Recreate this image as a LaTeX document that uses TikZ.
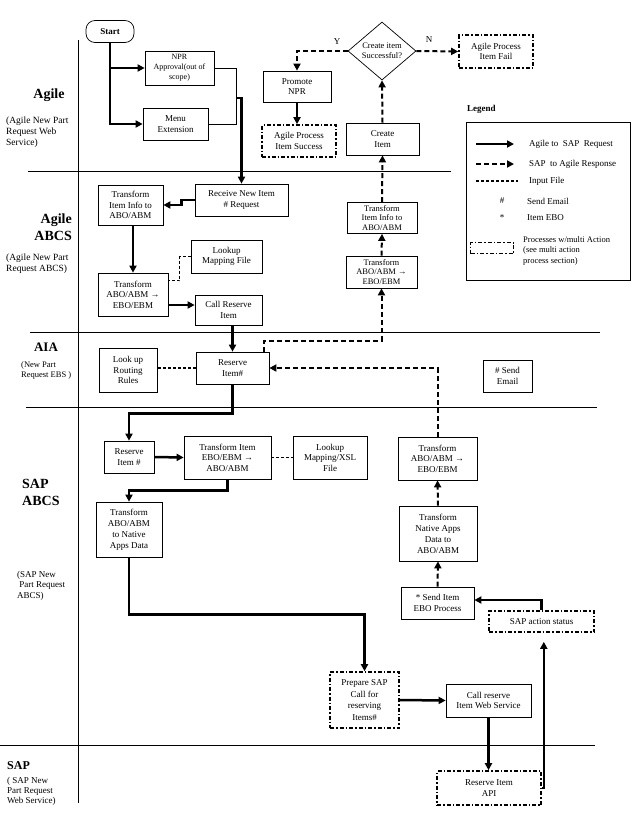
\documentclass[tikz,border=0pt]{standalone}
\usepackage{fontspec}
\setmainfont{Liberation Serif}
\usetikzlibrary{arrows.meta,shapes.geometric,calc}
\begin{document}
\begin{tikzpicture}[x=1pt,y=-1pt,
 every node/.style={font=\fontsize{9}{10.5}\selectfont},
 box/.style={draw, line width=0.7pt, align=center, inner sep=0pt},
 ddbox/.style={draw, line width=1.6pt, dash pattern=on 4pt off 2pt on 1.5pt off 2pt, align=center, inner sep=0pt},
 tip/.style={-{Triangle[length=7pt,width=7pt]}},
 thk/.style={line width=2.5pt},
 dsh/.style={line width=2pt, dash pattern=on 5pt off 3pt},
 inp/.style={line width=1pt, dash pattern=on 3pt off 2pt},
 thn/.style={line width=0.7pt},
 lane/.style={line width=0.7pt},
 lanelbl/.style={font=\fontsize{14}{17}\selectfont\bfseries, inner sep=0pt},
 sub/.style={font=\fontsize{9.5}{11}\selectfont, align=left, inner sep=0pt},
]
\useasboundingbox (0,0) rectangle (632,820);
\fill[white] (0,0) rectangle (632,820);

% lanes
\draw[lane] (28,171) -- (451,171);
\draw[lane] (30,332) -- (600,332);
\draw[lane] (26,407) -- (597,407);
\draw[lane] (0,745) -- (595,745);
\draw[lane] (78,40) -- (78,803);

% lane labels
\node[lanelbl] (agl) at (49,95) {Agile};
\node[sub, anchor=north west] (agls) at (6,117) {(Agile New Part\\Request Web\\Service)};
\node[lanelbl, anchor=north east, align=right] (abcs) at (72,214) {Agile\\ABCS};
\node[sub, anchor=north west] (abcss) at (6,254) {(Agile New Part\\Request ABCS)};
\node[lanelbl, font=\fontsize{13}{15}\selectfont\bfseries] (aia) at (46,347) {AIA};
\node[sub, anchor=north west, font=\fontsize{8.5}{10}\selectfont] (aias) at (21,361) {(New Part\\Request EBS )};
\node[lanelbl, anchor=north west, align=left] (sabcs) at (22,479) {SAP\\ABCS};
\node[sub, anchor=north west, font=\fontsize{9}{10.5}\selectfont] (sabcss) at (17,571) {(SAP New\\\ Part Request\\ABCS)};
\node[lanelbl, anchor=west, font=\fontsize{12}{14}\selectfont\bfseries] (sap) at (7,766) {SAP};
\node[sub, anchor=north west, font=\fontsize{9}{10.2}\selectfont] (saps) at (7,777) {( SAP New\\Part Request\\Web Service)};

% nodes
\node[box, rounded corners=9pt, minimum width=48, minimum height=22, font=\fontsize{9}{10}\selectfont\bfseries] (start) at (110,31.5) {Start};
\node[box, minimum width=69, minimum height=34, font=\fontsize{8}{10}\selectfont] (npr) at (179.5,68) {NPR\\Approval(out of\\scope)};
\node[box, minimum width=65, minimum height=32] (menu) at (175.5,124) {Menu\\Extension};
\node[box, minimum width=68, minimum height=31] (promote) at (297,86.5) {Promote\\NPR};
\node[ddbox, minimum width=74, minimum height=32] (success) at (299,141) {Agile Process\\Item Success};
\node[box, minimum width=73, minimum height=32] (create) at (382.5,139) {Create\\Item};
\node[draw, diamond, line width=0.7pt, minimum width=68, minimum height=58, inner sep=0pt, align=center, font=\fontsize{8.5}{10}\selectfont] (dec) at (382,51) {Create item\\Successful?};
\node[ddbox, minimum width=74, minimum height=33] (fail) at (496,51.5) {Agile Process\\Item Fail};
\node[font=\fontsize{9}{10}\selectfont] (ylbl) at (337,42) {Y};
\node[font=\fontsize{9}{10}\selectfont] (nlbl) at (429,40) {N};

\node[box, minimum width=93, minimum height=32] (receive) at (241.5,200) {Receive New Item\\\# Request};
\node[box, minimum width=65, minimum height=40] (tinfo) at (130.5,205) {Transform\\Item Info to\\ABO/ABM};
\node[box, minimum width=70, minimum height=43] (tabo) at (133,294.5) {Transform\\ABO/ABM →\\EBO/EBM};
\node[box, minimum width=71, minimum height=33] (look1) at (226.5,256.5) {Lookup\\Mapping File};
\node[box, minimum width=67, minimum height=30] (callres) at (228.5,310) {Call Reserve\\Item};
\node[box, minimum width=70, minimum height=31, font=\fontsize{8.5}{9.5}\selectfont] (rtinfo) at (382,218) {Transform\\Item Info to\\ABO/ABM};
\node[box, minimum width=71, minimum height=32, font=\fontsize{8.5}{9.5}\selectfont] (rtabo) at (381.5,272) {Transform\\ABO/ABM →\\EBO/EBM};

\node[box, minimum width=58, minimum height=44] (lroute) at (128,370) {Look up\\Routing\\Rules};
\node[box, minimum width=73, minimum height=32] (resaia) at (232.5,368) {Reserve\\Item\#};
\node[box, minimum width=49, minimum height=32] (email) at (507.5,376) {\# Send\\Email};

\node[box, minimum width=50, minimum height=32] (ressap) at (129,457) {Reserve\\Item \#};
\node[box, minimum width=87, minimum height=43] (tebo) at (227.5,457.5) {Transform Item\\EBO/EBM →\\ABO/ABM};
\node[box, minimum width=74, minimum height=43] (lxsl) at (330,457.5) {Lookup\\Mapping/XSL\\File};
\node[box, minimum width=66, minimum height=55, font=\fontsize{9}{11}\selectfont] (tnat) at (129,529.5) {Transform\\ABO/ABM\\to Native\\Apps Data};
\node[box, minimum width=79, minimum height=43] (rtabo2) at (437.5,458.5) {Transform\\ABO/ABM →\\EBO/EBM};
\node[box, minimum width=78, minimum height=55, font=\fontsize{9}{11}\selectfont] (tnat2) at (438,533.5) {Transform\\Native Apps\\Data to\\ABO/ABM};
\node[box, minimum width=73, minimum height=32] (sendebo) at (437.5,603) {* Send Item\\EBO Process};
\node[ddbox, minimum width=105, minimum height=21] (sapst) at (541.5,621.5) {SAP action status};
\node[ddbox, minimum width=69, minimum height=56, font=\fontsize{9}{11.5}\selectfont] (prep) at (364.5,700) {Prepare SAP\\Call for\\reserving\\Items\#};
\node[box, minimum width=85, minimum height=33] (callweb) at (488.5,700.5) {Call reserve\\Item Web Service};
\node[ddbox, minimum width=104, minimum height=34] (resapi) at (489,788) {Reserve Item\\API};

% connectors
\draw[thk,tip] (start.south) |- (menu.west);
\draw[thk,tip] (start.south |- npr.west) -- (npr.west);
\draw[thn] (npr.east) -- ++(22,0) |- (menu.east);
\coordinate (brk) at (236,98);
\draw[thk,tip] (brk) -| (receive.north);
\draw[thk,tip] (receive.west) -- ++(-13,0) |- (tinfo.east);
\draw[thk,tip] (tabo.north |- tinfo.south) -- (tabo.north);
\draw[inp] (look1.west) -- ++(-11,0) |- ($(tabo.north east)+(0,8)$);
\coordinate (c7) at ($(callres.west)+(0,-5)$);
\draw[thk,tip] (tabo.east |- c7) -- (c7);
\draw[thk,tip] (resaia.north |- callres.south) -- (resaia.north);
\draw[inp, line width=1.3pt] (resaia.west) -- (lroute.east |- resaia.west);
\coordinate (r1) at ($(resaia.north east)+(-5,0)$);
\draw[dsh,tip] (r1) -- ++(0,-11) -| (rtabo.south);
\draw[dsh,tip] (rtabo.north) -- (rtinfo.south);
\draw[dsh,tip] (rtinfo.north) -- (create.south);
\draw[dsh,tip] (create.north) -- (dec.south);
\draw[dsh,tip] (dec.west) -| (promote.north);
\draw[dsh,tip] (dec.east) -- (fail.west);
\draw[thk,tip] (promote.south) -- (promote.south |- success.north);
\draw[thk,tip] (resaia.south) -- ++(0,29) -| (ressap.north);
\draw[thk,tip] (ressap.east) -- (tebo.west);
\draw[inp, line width=1.3pt] (tebo.east) -- (lxsl.west);
\draw[thk,tip] (tebo.south) -- ++(0,11) -| (tnat.north);
\draw[thk,tip] (tnat.south) -- ++(0,57) -| (prep.north);
\draw[thk,tip] (prep.east) -- (callweb.west);
\draw[thk,tip] (callweb.south) -- (callweb.south |- resapi.north);
\draw[thk,tip,shorten >=9pt] (resapi.east) -- ++(2,0) coordinate (q) -- (q |- sapst.south);
\coordinate (c25) at ($(sendebo.east)+(0,-3)$);
\draw[thk,tip] (sapst.north) |- (c25);
\draw[dsh,tip] (sendebo.north) -- (tnat2.south);
\draw[dsh,tip] (tnat2.north) -- (rtabo2.south);
\draw[dsh,tip] (rtabo2.north) |- (resaia.east);

% legend
\node[font=\fontsize{9}{10}\selectfont\bfseries, anchor=west, inner sep=0pt] (legt) at (467,109) {Legend};
\node[draw, thn, minimum width=164, minimum height=158, inner sep=0pt] (legbox) at (548,201) {};
\coordinate (l1a) at (476,144); \coordinate (l1b) at (514,144);
\draw[thk,tip] (l1a) -- (l1b);
\coordinate (l2a) at (476,164); \coordinate (l2b) at (514,164);
\draw[dsh,tip] (l2a) -- (l2b);
\coordinate (l3a) at (476,181); \coordinate (l3b) at (518,181);
\draw[inp, line width=1.3pt] (l3a) -- (l3b);
\node[anchor=west, inner sep=0pt] (lt1) at (529,144) {Agile to \ SAP \ Request};
\node[anchor=west, inner sep=0pt] (lt2) at (529,164) {SAP \ to Agile Response};
\node[anchor=west, inner sep=0pt] (lt3) at (529,181) {Input File};
\node[inner sep=0pt] (lh) at (502,201) {\#};
\node[anchor=west, inner sep=0pt] (lt4) at (527,201) {Send Email};
\node[inner sep=0pt] (ls) at (502,218) {*};
\node[anchor=west, inner sep=0pt] (lt5) at (527,218) {Item EBO};
\node[draw, line width=1.2pt, dash pattern=on 4pt off 2pt on 1.5pt off 2pt, minimum width=43, minimum height=11, inner sep=0pt] (l6) at (492,248) {};
\node[anchor=north west, align=left, inner sep=0pt, font=\fontsize{8.5}{10.5}\selectfont] (lt6) at (523,236) {Processes w/multi Action\\(see multi action\\process section)};
\end{tikzpicture}
\end{document}
